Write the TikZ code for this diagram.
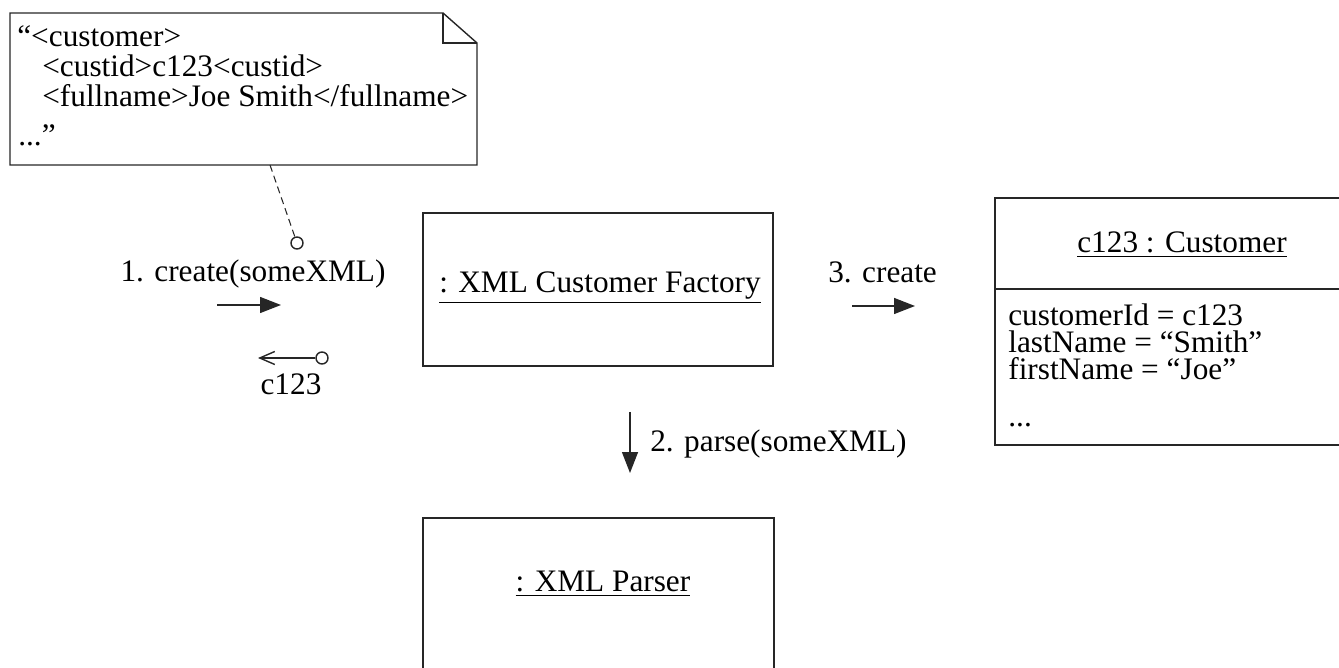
\documentclass[tikz,border=0pt]{standalone}
\usepackage{fontspec}
\setmainfont{Liberation Serif}
\usetikzlibrary{arrows.meta}
\begin{document}
\begin{tikzpicture}[x=0.02cm,y=-0.02cm,
  every node/.style={font=\fontsize{17.8}{20}\selectfont, inner sep=0pt},
  boxline/.style={draw=black!85, line width=0.8pt},
  objbox/.style={boxline, rectangle, inner sep=0pt},
  txt/.style={anchor=base west},
  ctxt/.style={anchor=base},
  attr/.style={anchor=base west, text height=11pt, text depth=2pt},
  msg/.style={draw=black!85, line width=0.8pt, -{Triangle[length=0.42cm,width=0.32cm]}},
  ret/.style={draw=black!85, line width=0.8pt, -{Straight Barb[length=0.3cm,width=0.26cm]}},
  lollipop/.style={circle, draw=black!85, line width=0.8pt, minimum size=0.24cm, inner sep=0pt, fill=white}
]
\useasboundingbox (0,0) rectangle (1339,668);
\clip (0,0) rectangle (1339,668);

% note with folded corner
\draw[boxline] (10,13) -- (443,13) -- (477,43) -- (477,165) -- (10,165) -- cycle;
\draw[boxline] (443,13) -- (443,43) -- (477,43);
\node[txt] (n1) at (17,47) {“<customer>};
\node[txt] (n2) at (42,77) {<custid>c123<custid>};
\node[txt] (n3) at (42,107) {<fullname>Joe Smith</fullname>};
\node[txt] (n4) at (18,146) {...”};
\coordinate (noteanchor) at (270,165);
\node[lollipop] (lp1) at (297,243) {};
\draw[dashed, draw=black!85, line width=0.6pt, dash pattern=on 4pt off 2.5pt] (noteanchor) -- (lp1);

% message 1
\node[ctxt] (m1) at (253,282) {1. create(someXML)};
\coordinate (m1s) at (217,305);
\coordinate (m1e) at (281,305);
\draw[msg] (m1s) -- (m1e);

% return
\node[lollipop] (lp2) at (322,358) {};
\coordinate (r1e) at (258,358);
\draw[ret] (lp2) -- (r1e);
\node[ctxt] (r1) at (291,395) {c123};

% factory
\node[objbox, minimum width=7cm, minimum height=3.06cm] (factory) at (598,289.5) {};
\node[ctxt] (factorylabel) at (600,293) {\underline{: XML Customer Factory}};

% message 3
\node[txt] (m3) at (828,283) {3. create};
\coordinate (m3s) at (852,306);
\coordinate (m3e) at (915,306);
\draw[msg] (m3s) -- (m3e);

% customer
\node[objbox, minimum width=7.3cm, minimum height=4.94cm] (cust) at (1177.5,321.5) {};
\draw[boxline] (995,289) -- (1360,289);
\node[ctxt] (custlabel) at (1182,253) {\underline{c123 : Customer}};
\node[attr] (a1) at (1008,326) {customerId = c123};
\node[attr] (a2) at (1008,353) {lastName = “Smith”};
\node[attr] (a3) at (1008,380) {firstName = “Joe”};
\node[attr] (a4) at (1008,427) {...};

% message 2
\coordinate (m2s) at (630,412);
\coordinate (m2e) at (630,473);
\draw[msg] (m2s) -- (m2e);
\node[txt] (m2) at (650,452) {2. parse(someXML)};

% parser
\node[objbox, minimum width=7.02cm, minimum height=3.44cm] (parser) at (598.5,604) {};
\node[ctxt] (parserlabel) at (603,592) {\underline{: XML Parser}};
\end{tikzpicture}
\end{document}
